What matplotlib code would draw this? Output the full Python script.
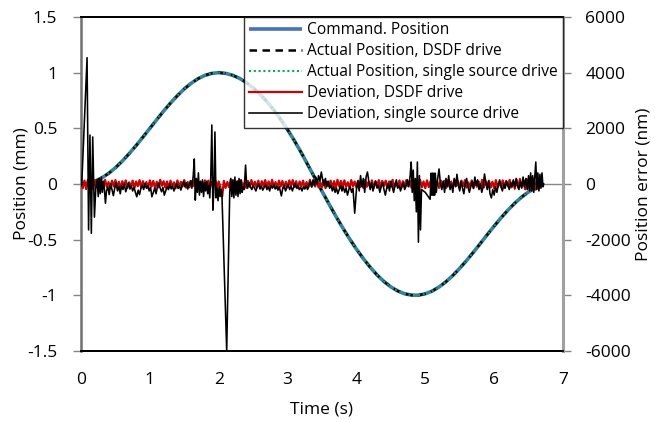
import numpy as np
import matplotlib
matplotlib.use("Agg")
import matplotlib.pyplot as plt
from matplotlib.ticker import FuncFormatter, MultipleLocator

plt.rcParams['font.family'] = ['Open Sans', 'DejaVu Sans']
plt.rcParams['axes.unicode_minus'] = False

# ---------------- data ----------------
# Position profile (mm), sampled every 0.1 s from 0 to 6.7 s
pos_time = [round(0.1 * i, 1) for i in range(68)]
position_mm = [
    0.000, 0.006, 0.024, 0.054, 0.095, 0.146, 0.206, 0.273, 0.345, 0.422,
    0.500, 0.578, 0.655, 0.727, 0.794, 0.854, 0.905, 0.946, 0.976, 0.994,
    1.000, 0.994, 0.977, 0.950, 0.912, 0.864, 0.806, 0.740, 0.665, 0.580,
    0.488, 0.388, 0.280, 0.165, 0.050, -0.065, -0.178, -0.288, -0.393, -0.492,
    -0.585, -0.670, -0.748, -0.817, -0.876, -0.924, -0.961, -0.986, -0.998, -0.999,
    -0.986, -0.962, -0.925, -0.878, -0.822, -0.757, -0.687, -0.612, -0.534, -0.455,
    -0.378, -0.304, -0.235, -0.172, -0.117, -0.071, -0.036, -0.012,
]

# Deviation, DSDF drive (nm), sampled every 0.025 s from 0 to 6.7 s
dev_dsdf = [
    0, -150, 120, -180, 150, -100, 160, -170, 130, -120,
    110, -140, 90, -130, 150, -110, 70, -150, 120, -90,
    140, -120, 80, -160, 100, -70, 130, -140, 60, -110,
    120, -150, 90, -80, 140, -130, 100, -100, 70, -140,
    130, -90, 110, -150, 80, -120, 150, -60, 100, -130,
    90, -140, 120, -100, 60, -150, 130, -110, 80, -90,
    140, -130, 70, -120, 110, -80, 150, -140, 100, -110,
    60, -150, 130, -90, 120, -140, 80, -100, 140, -120,
    90, -130, -450, 110, -140, 70, -110, 150, -90, 120,
    -150, 100, -80, 130, -120, 60, -140, 110, -100, 140,
    -90, 80, -130, 120, -150, 100, -70, 140, -110, 90,
    -130, 150, -100, 70, -140, 120, -90, 110, -150, 80,
    -120, 130, -60, 140, -110, 100, -150, 90, -80, 120,
    -140, 70, -130, 150, -100, 110, -90, 130, -120, 60,
    -110, 140, -150, 80, -70, 120, -130, 100, -140, 150,
    -90, 110, -120, 130, -100, 60, -150, 140, -80, 90,
    -130, 120, -110, 70, -140, 150, -100, 80, -120, 130,
    -150, 100, -90, 140, -130, 110, -70, 120, -140, 90,
    -100, 150, -120, 60, -110, 130, -150, 100, -90, 140,
    -80, 120, -140, 110, -130, 70, -100, 150, -120, 90,
    -150, 130, -110, 100, -60, 140, -130, 80, -140, 120,
    -90, 110, -150, 130, -100, 90, -120, 150, -70, 100,
    -140, 120, -80, 140, -130, 60, -110, 130, -150, 110,
    -100, 90, -140, 150, -120, 100, -90, 120, -130, 80,
    -150, 140, -110, 70, -100, 130, -140, 110, -80, 150,
    -120, 100, -170, 160, -130, 180, -110, 140, -190, 170,
    -160, 200, -150, 180, -200, 150, -170, 190, 0,
]
dsdf_time = [round(0.025 * i, 3) for i in range(len(dev_dsdf))]

# Deviation, single source drive (nm)
single_time = [
    0.000, 0.010, 0.088, 0.110, 0.130, 0.150, 0.170, 0.195, 0.215, 0.235,
    0.250, 0.265, 0.280, 0.295, 0.310, 0.325, 0.340, 0.355, 0.370, 0.390,
    0.410, 0.430, 0.450, 0.470, 0.490, 0.510, 0.530, 0.550, 0.570, 0.590,
    0.610, 0.630, 0.650, 0.670, 0.690, 0.710, 0.730, 0.750, 0.770, 0.790,
    0.810, 0.830, 0.850, 0.870, 0.890, 0.910, 0.930, 0.950, 0.970, 0.990,
    1.010, 1.030, 1.050, 1.070, 1.090, 1.110, 1.130, 1.150, 1.170, 1.190,
    1.210, 1.230, 1.250, 1.270, 1.290, 1.310, 1.330, 1.350, 1.370, 1.390,
    1.410, 1.430, 1.450, 1.470, 1.490, 1.510, 1.530, 1.550, 1.570, 1.590,
    1.610, 1.630, 1.645, 1.660, 1.675, 1.690, 1.705, 1.720, 1.735, 1.750,
    1.765, 1.780, 1.795, 1.810, 1.825, 1.840, 1.855, 1.870, 1.885, 1.900,
    1.915, 1.930, 1.945, 1.960, 1.975, 1.990, 2.005, 2.020, 2.035, 2.045,
    2.116, 2.160, 2.175, 2.190, 2.205, 2.220, 2.235, 2.250, 2.265, 2.280,
    2.295, 2.310, 2.325, 2.340, 2.355, 2.370, 2.390, 2.405, 2.420, 2.440,
    2.460, 2.480, 2.500, 2.520, 2.540, 2.560, 2.580, 2.600, 2.620, 2.640,
    2.660, 2.680, 2.700, 2.720, 2.740, 2.760, 2.780, 2.800, 2.820, 2.840,
    2.860, 2.880, 2.910, 2.930, 2.950, 2.970, 2.990, 3.010, 3.030, 3.050,
    3.070, 3.090, 3.110, 3.130, 3.150, 3.170, 3.190, 3.210, 3.230, 3.250,
    3.270, 3.290, 3.310, 3.330, 3.350, 3.370, 3.390, 3.410, 3.430, 3.450,
    3.470, 3.490, 3.510, 3.530, 3.550, 3.570, 3.590, 3.610, 3.630, 3.650,
    3.670, 3.690, 3.710, 3.730, 3.750, 3.770, 3.790, 3.810, 3.830, 3.850,
    3.870, 3.890, 3.910, 3.930, 3.950, 3.975, 4.000, 4.020, 4.040, 4.060,
    4.080, 4.100, 4.120, 4.140, 4.160, 4.180, 4.200, 4.220, 4.240, 4.260,
    4.280, 4.300, 4.320, 4.340, 4.360, 4.380, 4.400, 4.420, 4.440, 4.460,
    4.480, 4.500, 4.520, 4.540, 4.560, 4.580, 4.600, 4.620, 4.640, 4.660,
    4.680, 4.700, 4.720, 4.740, 4.760, 4.780, 4.795, 4.810, 4.825, 4.840,
    4.855, 4.870, 4.885, 4.900, 4.915, 4.930, 4.945, 5.000, 5.070, 5.085,
    5.095, 5.105, 5.115, 5.125, 5.135, 5.145, 5.160, 5.180, 5.200, 5.220,
    5.240, 5.260, 5.280, 5.300, 5.320, 5.340, 5.360, 5.380, 5.400, 5.420,
    5.440, 5.460, 5.480, 5.500, 5.520, 5.540, 5.560, 5.580, 5.600, 5.620,
    5.640, 5.660, 5.680, 5.700, 5.720, 5.740, 5.760, 5.780, 5.800, 5.820,
    5.840, 5.860, 5.880, 5.900, 5.920, 5.940, 5.960, 5.980, 6.000, 6.020,
    6.040, 6.060, 6.080, 6.100, 6.120, 6.140, 6.160, 6.180, 6.200, 6.220,
    6.240, 6.260, 6.280, 6.300, 6.320, 6.340, 6.360, 6.380, 6.400, 6.420,
    6.440, 6.460, 6.480, 6.500, 6.515, 6.530, 6.545, 6.560, 6.575, 6.590,
    6.605, 6.620, 6.635, 6.650, 6.665, 6.680, 6.695, 6.710, 6.720,
]
dev_single = [
    0, -50, 4540, -1650, 1760, -1770, 1690, -1190, -150, 150,
    -450, 200, -350, 250, -300, 100, -200, -690, -250, -100,
    -380, 0, -200, -420, -150, 50, -250, -100, -350, -50,
    -200, 0, -280, -120, 40, -180, -60, -250, -120, -300,
    -460, -220, -380, -150, -50, -200, 20, -150, -60, -250,
    -120, -460, -300, -150, -350, -100, 30, -150, -280, -120,
    -400, -250, -100, -200, 0, -180, -80, -250, -120, 20,
    -160, -60, -220, -50, 100, -100, 40, -180, -30, 120,
    -150, 300, 900, -580, 200, -300, 400, -400, 100, -300,
    150, -450, 50, -250, 100, -350, -50, -500, 300, 2120,
    -940, -200, 1870, -500, -150, -600, -100, -450, -200, -250,
    -6000, -300, 200, -450, 150, -500, 250, -400, 100, -450,
    200, -350, 150, -300, -100, -200, 680, 0, -150, 50,
    -100, -200, -50, -150, -250, -100, 0, -180, -80, -220,
    -120, -40, -200, -100, -250, -60, -150, -20, -180, -80,
    -220, -100, -430, -150, -50, -250, -120, -30, -200, -90,
    -250, -100, 20, -150, -60, -200, -120, -250, -100, -180,
    -60, -200, -50, 100, -100, 150, -50, 250, 0, 300,
    100, 430, 150, -50, 200, -100, 100, -150, -50, -250,
    -100, -300, -150, -350, -200, -50, -250, -100, -300, -150,
    -400, -200, -100, -300, -150, -1050, -200, 100, -250, 300,
    -100, 200, -300, 250, 430, 100, -200, 50, -250, -50,
    100, -150, -50, -300, -100, 50, -200, -400, -150, 0,
    -250, 100, -100, -300, -50, 150, -150, -50, -250, -100,
    50, -200, -80, 150, -100, 300, 790, -300, 500, -600,
    200, -1000, 790, -2090, 300, -1650, -200, -300, -550, 390,
    -400, 390, -400, 390, -400, 390, -300, 200, 540, 0,
    -200, 100, -300, 200, -100, 300, -200, 0, -300, 200,
    -100, 350, -50, -250, 100, -150, -350, 0, 200, -100,
    -300, -100, 100, -150, 250, -50, 150, -200, 0, -300,
    -100, 360, 50, -200, 100, -350, -500, -200, -400, -100,
    -300, -50, 150, -100, -250, 0, -150, 100, -50, -200,
    50, -100, 150, -100, 200, -50, -200, 100, -150, 250,
    -100, 200, -200, 300, -250, 400, -200, 300, -300, 250,
    790, -200, 400, -250, 350, -150, 400, -100, 0,
]

x_ticks = [0, 1, 2, 3, 4, 5, 6, 7]
legend_labels = [
    "Command. Position",
    "Actual Position, DSDF drive",
    "Actual Position, single source drive",
    "Deviation, DSDF drive",
    "Deviation, single source drive",
]

# ---------------- figure ----------------
W, H = 655, 422
fig = plt.figure(figsize=(W / 100, H / 100), dpi=100)
L, R, T, B = 81, 563, 17, 351
ax1 = fig.add_axes([L / W, (H - B) / H, (R - L) / W, (B - T) / H])
ax2 = ax1.twinx()

ax1.set_xlim(0, 7)
ax1.set_ylim(-1.5, 1.5)
ax2.set_ylim(-6000, 6000)

grey = '#868686'
ax1.axhline(0, color=grey, lw=1.0, zorder=0.5)

h1, = ax1.plot(pos_time, position_mm, color='#4472C4', lw=2.6, solid_capstyle='butt')
h2, = ax1.plot(pos_time, position_mm, color='black', lw=1.8, linestyle=(0, (3.0, 2.2)))
h3, = ax1.plot(pos_time, position_mm, color='#00B050', lw=1.5, linestyle=(0, (1, 1.3)))

h4, = ax2.plot(dsdf_time, dev_dsdf, color='#D00000', lw=1.6)
h5, = ax2.plot(single_time, dev_single, color='black', lw=1.15)

fmt = FuncFormatter(lambda v, p: f"{v:g}")
ax1.yaxis.set_major_locator(MultipleLocator(0.5))
ax1.yaxis.set_major_formatter(fmt)
ax2.yaxis.set_major_locator(MultipleLocator(2000))
ax2.yaxis.set_major_formatter(FuncFormatter(lambda v, p: f"{int(v)}"))
ax1.set_xticks(x_ticks)
ax1.set_xticklabels([str(v) for v in x_ticks])

fs = 12.5
ax1.tick_params(axis='x', length=0, pad=15, labelsize=fs)
ax1.tick_params(axis='y', direction='out', length=6, width=1, color=grey, pad=11, labelsize=fs)
ax2.tick_params(axis='y', direction='out', length=6, width=1, color=grey, pad=10, labelsize=fs)

for a in (ax1, ax2):
    a.spines['top'].set_color('black')
    a.spines['bottom'].set_color('black')
    a.spines['top'].set_linewidth(1.3)
    a.spines['bottom'].set_linewidth(1.3)
ax1.spines['left'].set_color('#707070')
ax1.spines['left'].set_linewidth(1.8)
ax2.spines['left'].set_visible(False)
ax2.spines['right'].set_color('#a0a0a0')
ax2.spines['right'].set_linewidth(2.2)
ax1.spines['right'].set_visible(False)

ax1.set_xlabel("Time (s)", fontsize=fs, labelpad=10)
ax1.set_ylabel("Position (mm)", fontsize=fs, labelpad=-2)
ax2.set_ylabel("Position error (nm)", fontsize=fs, labelpad=3)

leg = ax2.legend([h1, h2, h3, h4, h5], legend_labels, loc='upper right',
                 bbox_to_anchor=(1.0, 1.0), borderaxespad=0, frameon=True,
                 fancybox=False, edgecolor='black', fontsize=11.2,
                 handlelength=3.4, handletextpad=0.3, labelspacing=0.32,
                 borderpad=0.35)
leg.get_frame().set_linewidth(1.0)
leg.set_zorder(10)

fig.savefig("out.png", dpi=100)
